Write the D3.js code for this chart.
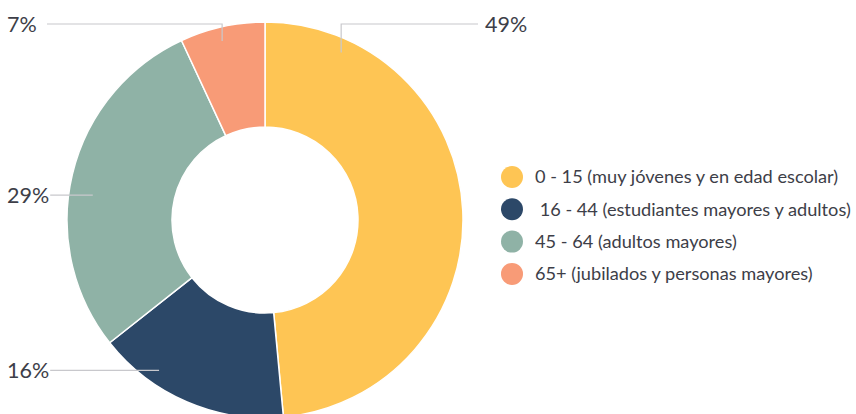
<!DOCTYPE html>
<html>
<head>
<meta charset="utf-8">
<script src="https://cdn.jsdelivr.net/npm/d3@7"></script>
<style>
  body { margin: 0; background: #fff; }
  text { font-family: Lato, "Open Sans", sans-serif; fill: #3d3e48; }
</style>
</head>
<body>
<svg class="donut"></svg>
<script>
const categories = [
	'0 - 15 (muy jóvenes y en edad escolar)',
	' 16 - 44 (estudiantes mayores y adultos)',
	'45 - 64 (adultos mayores)',
	'65+ (jubilados y personas mayores)'
];
const values = [49, 16, 29, 7];
const colors = ['#fec554', '#2c4868', '#8fb2a6', '#f89b77'];

// where each label line meets its slice (share of the slice), which side, raised to top row
const labelLayout = [
	{ frac: 0.14, side: 'right', top: true },
	{ frac: 0.71, side: 'left', top: false },
	{ frac: 0.45, side: 'left', top: false },
	{ frac: 0.46, side: 'left', top: true }
];

const svg = d3.select('.donut')
	.attr('width', 856)
	.attr('height', 414);

let cx = 265,
	cy = 220,
	outerR = 198,
	innerR = 93,
	labelR = 184;

const pie = d3.pie().sort(null).value(d => d);
const arcs = pie(values);

const arc = d3.arc()
	.innerRadius(innerR)
	.outerRadius(outerR);

const g = svg.append('g')
	.attr('transform', `translate(${cx}, ${cy})`);

g.selectAll('path')
	.data(arcs)
	.enter().append('path')
	.attr('d', arc)
	.attr('fill', (d, i) => colors[i])
	.attr('stroke', '#fff')
	.attr('stroke-width', 1.5);

// labels with leader lines
const topY = -outerR + 2;
arcs.forEach((a, i) => {
	const lay = labelLayout[i];
	const ang = a.startAngle + (a.endAngle - a.startAngle) * lay.frac;
	const r = i === 2 ? labelR - 10 : labelR;
	const ax = r * Math.sin(ang),
		ay = -r * Math.cos(ang);
	const ly = lay.top ? topY : ay;

	const label = g.append('text')
		.attr('y', ly)
		.attr('dy', '0.35em')
		.style('font-size', '21.5px')
		.text(values[i] + '%');

	let endX;
	if (lay.side === 'left') {
		label.attr('x', 7 - cx);
		endX = Math.max(7 - cx + label.node().getComputedTextLength() + 1, 47 - cx);
	} else {
		label.attr('x', outerR + 22);
		endX = outerR + 15;
	}

	const pts = lay.top ? [[ax, ay], [ax, ly], [endX, ly]] : [[ax, ay], [endX, ly]];
	g.append('path')
		.attr('d', d3.line()(pts))
		.attr('fill', 'none')
		.attr('stroke', '#c8c8cc')
		.attr('stroke-width', 1.2);
});

// legend
const legend = svg.append('g')
	.attr('transform', 'translate(512, 177)');

const item = legend.selectAll('g')
	.data(categories)
	.enter().append('g')
	.attr('transform', (d, i) => `translate(0, ${i * 32.3})`);

item.append('circle')
	.attr('r', 11)
	.attr('fill', (d, i) => colors[i]);

item.append('text')
	.attr('x', 23)
	.attr('dy', '0.35em')
	.style('font-size', '18.2px')
	.style('white-space', 'pre')
	.text(d => d);
</script>
</body>
</html>
